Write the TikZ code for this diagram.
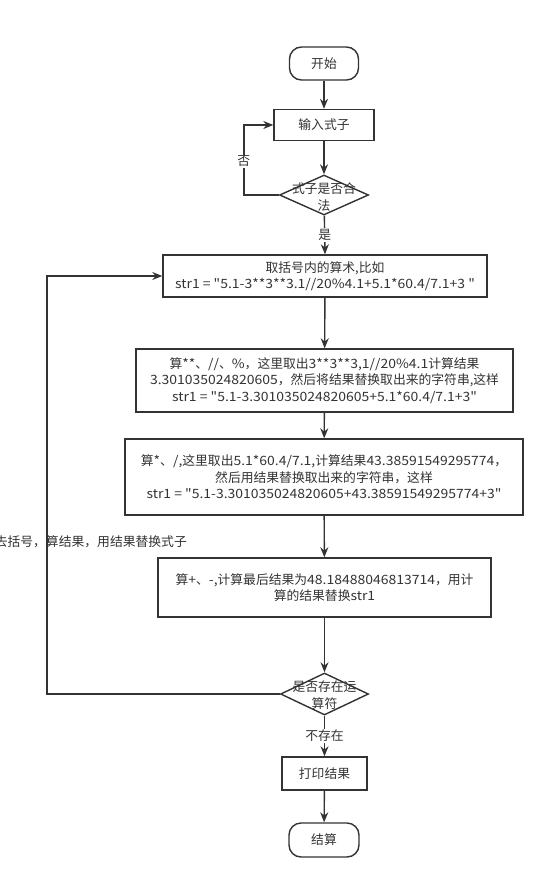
\documentclass[tikz,border=0pt]{standalone}
\usepackage{fontspec}
\newfontfamily\cjk{Noto Sans CJK SC}
\newfontfamily\wlat{Noto Sans CJK SC}[FakeStretch=1.09]
\usetikzlibrary{shapes.geometric,arrows.meta}
\definecolor{lc}{HTML}{333333}
\newcommand{\fz}{\fontsize{12.8}{16.5}\selectfont}
\newcommand{\w}[1]{{\wlat #1}}
\begin{document}
\begin{tikzpicture}[x=1pt,y=-1pt,
  box/.style={draw=lc, line width=1.4pt, fill=white, align=center, inner sep=0pt, font=\cjk\fz, text=lc},
  term/.style={box, rounded corners=12pt},
  dia/.style={draw=lc, line width=1.4pt, fill=white, diamond, inner sep=0pt},
  arr/.style={-{Stealth[length=10pt,width=8pt]}, line width=1.4pt, draw=lc},
  lbl/.style={font=\cjk\fz, text=lc, inner sep=1pt, align=center},
  lblw/.style={lbl, fill=white}]
\useasboundingbox (0,0) rectangle (555,888);
\clip (0,0) rectangle (555,888);

\node[term, minimum width=69pt, minimum height=33pt] (st) at (324,63.5) {开始};
\node[box, minimum width=100pt, minimum height=31pt] (in) at (324,125) {输入式子};
\node[dia, minimum width=89pt, minimum height=40pt] (d1) at (324,195) {};
\node[lbl] (d1t) at (324,197) {式子是否合\\法};
\node[box, minimum width=324pt, minimum height=42pt] (b1) at (325,276)
  {取括号内的算术,比如\\\w{str1 = "5.1-3**3**3.1//20\%4.1+5.1*60.4/7.1+3 "}};
\node[box, minimum width=377pt, minimum height=63pt] (b2) at (324.5,380.5)
  {算\w{**}、\w{//}、\w{\%}，这里取出\w{3**3**3,1//20\%4.1}计算结果\\\w{3.301035024820605}，然后将结果替换取出来的字符串,这样\\\w{str1 = "5.1-3.301035024820605+5.1*60.4/7.1+3"}};
\node[box, minimum width=398pt, minimum height=76pt] (b3) at (324,477)
  {算\w{*}、\w{/,}这里取出\w{5.1*60.4/7.1,}计算结果\w{43.38591549295774}，\\然后用结果替换取出来的字符串，这样\\\w{str1 = "5.1-3.301035024820605+43.38591549295774+3"}};
\node[box, minimum width=333pt, minimum height=59pt] (b4) at (324.5,587.5)
  {算\w{+}、\w{-,}计算最后结果为\w{48.18488046813714}，用计\\算的结果替换\w{str1}};
\node[dia, minimum width=88pt, minimum height=42pt] (d2) at (324.5,694) {};
\node[lbl] (d2t) at (324.5,695) {是否存在运\\算符};
\node[box, minimum width=85pt, minimum height=33pt] (pr) at (324.5,773.5) {打印结果};
\node[term, minimum width=70pt, minimum height=34pt] (en) at (324,840) {结算};

\draw[arr] (st) -- (in);
\draw[arr] (in) -- (d1);
\draw[arr] (d1) -- node[lblw] (yes) {是} (b1.north);
\draw[arr] (d1.west) -- ++(-35,0) |- node[lblw, pos=0.24] (no) {否} (in.west);
\draw[arr] (b1) -- (b2);
\draw[arr] (b2) -- (b3);
\draw[arr] (b3) -- (b4);
\draw[arr] (b4.south) -- (d2.north);
\draw[arr] (d2) -- node[lblw] (nx) {不存在} (pr);
\draw[arr] (pr) -- (en);
\draw[arr] (d2.west) -- ++(-233,0) |- (b1.west);
\node[lbl, anchor=east] (lp) at (188,542) {去括号，算结果，用结果替换式子};
\end{tikzpicture}
\end{document}
